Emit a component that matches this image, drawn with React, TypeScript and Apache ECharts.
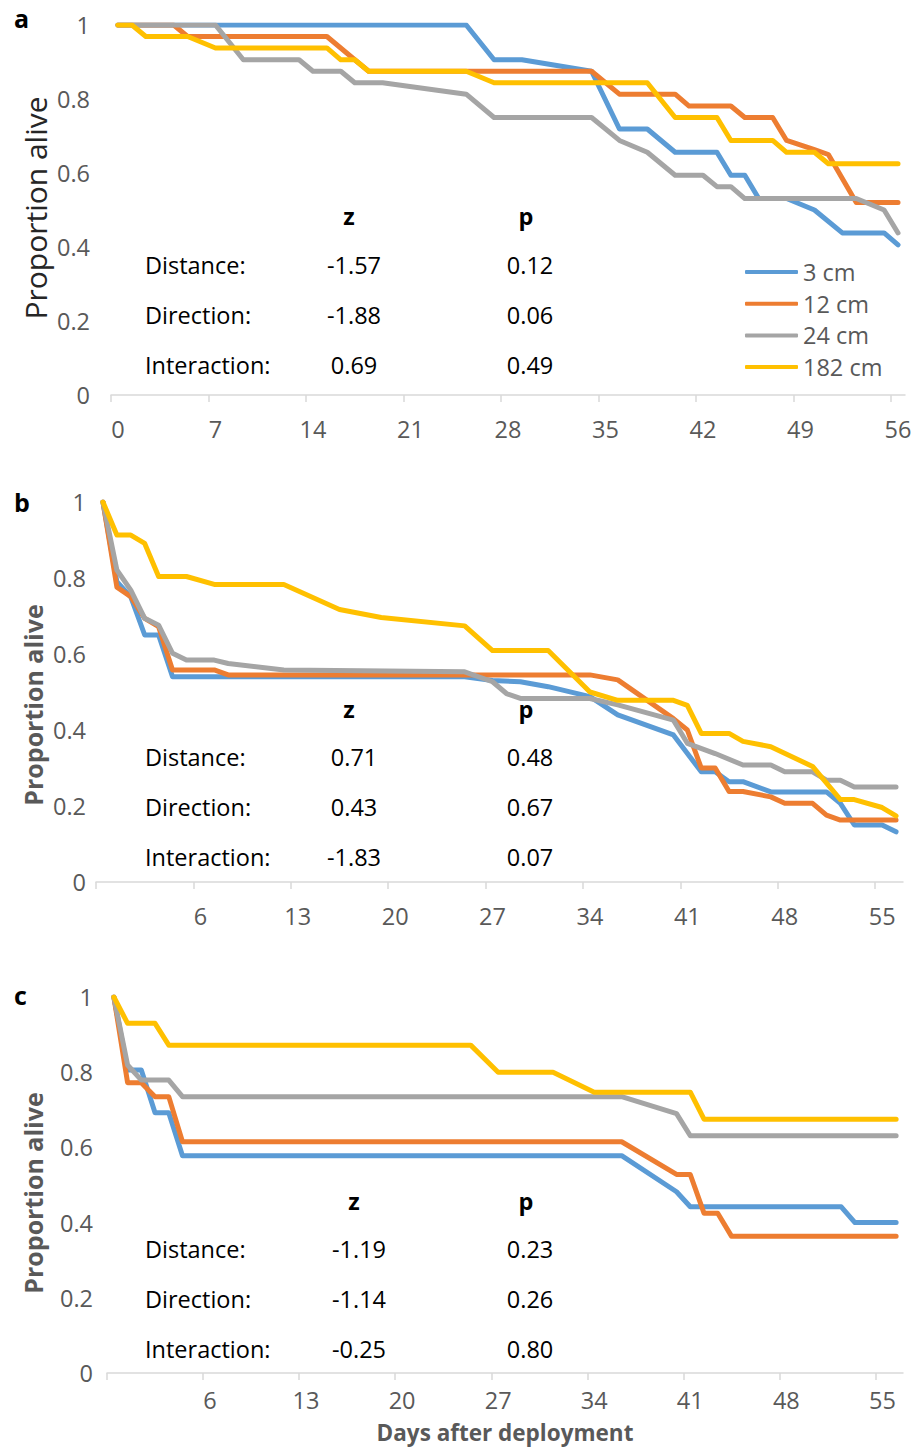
import React, { useEffect, useRef } from "react";
import * as echarts from "echarts";

const SERIES_NAMES = ["3 cm", "12 cm", "24 cm", "182 cm"];
const COLORS = ["#5B9BD5", "#ED7D31", "#A5A5A5", "#FFC000"];

// Panel a: [day, proportion alive]
const A_3CM = [[0,1],[25,1],[27,0.906],[29,0.906],[34,0.875],[36,0.719],[38,0.719],[40,0.656],[43,0.656],[44,0.594],[45,0.594],[46,0.531],[48,0.531],[50,0.5],[52,0.438],[55,0.438],[56,0.406]];
const A_12CM = [[0,1],[4,1],[5,0.969],[15,0.969],[17,0.906],[18,0.875],[34,0.875],[36,0.813],[40,0.813],[41,0.781],[44,0.781],[45,0.75],[47,0.75],[48,0.688],[50,0.663],[51,0.65],[53,0.52],[56,0.52]];
const A_24CM = [[0,1],[7,1],[9,0.906],[13,0.906],[14,0.875],[16,0.875],[17,0.844],[19,0.844],[25,0.813],[27,0.75],[34,0.75],[36,0.688],[38,0.656],[40,0.594],[42,0.594],[43,0.563],[44,0.563],[45,0.531],[53,0.531],[55,0.5],[56,0.438]];
const A_182CM = [[0,1],[1,1],[2,0.969],[5,0.969],[7,0.938],[15,0.938],[16,0.906],[17,0.906],[18,0.875],[25,0.875],[27,0.844],[38,0.844],[40,0.75],[43,0.75],[44,0.688],[47,0.688],[48,0.656],[50,0.656],[51,0.625],[56,0.625]];

// Panel b
const B_3CM = [[-1,1],[0,0.79],[1,0.75],[2,0.65],[3,0.65],[4,0.54],[25,0.54],[27,0.53],[29,0.527],[31,0.514],[34,0.488],[36,0.44],[40,0.387],[42,0.29],[43,0.29],[44,0.264],[45,0.264],[47,0.237],[51,0.237],[52,0.207],[53,0.15],[55,0.15],[56,0.132]];
const B_12CM = [[-1,1],[0,0.776],[1,0.751],[2,0.694],[3,0.672],[4,0.558],[7,0.558],[8,0.545],[34,0.545],[36,0.532],[40,0.43],[41,0.4],[42,0.3],[43,0.3],[44,0.238],[45,0.238],[47,0.224],[48,0.207],[50,0.207],[51,0.176],[52,0.163],[56,0.163]];
const B_24CM = [[-1,1],[0,0.821],[1,0.768],[2,0.694],[3,0.676],[4,0.602],[5,0.584],[7,0.584],[8,0.575],[12,0.558],[25,0.553],[27,0.527],[28,0.496],[29,0.483],[34,0.483],[36,0.466],[40,0.426],[41,0.365],[43,0.338],[45,0.308],[47,0.308],[48,0.29],[50,0.29],[51,0.268],[52,0.268],[53,0.25],[56,0.25]];
const B_182CM = [[-1,1],[0,0.913],[1,0.913],[2,0.891],[3,0.804],[5,0.804],[7,0.783],[12,0.783],[16,0.717],[19,0.696],[25,0.674],[27,0.609],[31,0.609],[34,0.5],[36,0.478],[40,0.478],[41,0.465],[42,0.391],[44,0.391],[45,0.37],[47,0.356],[50,0.304],[52,0.217],[53,0.217],[55,0.196],[56,0.174]];

// Panel c
const C_3CM = [[-1,1],[0,0.806],[1,0.806],[2,0.692],[3,0.692],[4,0.578],[36,0.578],[40,0.482],[41,0.442],[52,0.442],[53,0.4],[56,0.4]];
const C_12CM = [[-1,1],[0,0.772],[1,0.772],[2,0.735],[3,0.735],[4,0.615],[36,0.615],[40,0.528],[41,0.528],[42,0.425],[43,0.425],[44,0.364],[56,0.364]];
const C_24CM = [[-1,1],[0,0.819],[1,0.779],[3,0.779],[4,0.735],[36,0.735],[40,0.69],[41,0.631],[56,0.631]];
const C_182CM = [[-1,1],[0,0.93],[2,0.93],[3,0.872],[25,0.872],[27,0.8],[31,0.8],[34,0.747],[41,0.747],[42,0.675],[56,0.675]];

const A_X_LABELS = [0, 7, 14, 21, 28, 35, 42, 49, 56];
const BC_X_LABELS = [6, 13, 20, 27, 34, 41, 48, 55];

const STAT_ROWS = ["Distance:", "Direction:", "Interaction:"];
const A_Z = ["-1.57", "-1.88", "0.69"];
const A_P = ["0.12", "0.06", "0.49"];
const B_Z = ["0.71", "0.43", "-1.83"];
const B_P = ["0.48", "0.67", "0.07"];
const C_Z = ["-1.19", "-1.14", "-0.25"];
const C_P = ["0.23", "0.26", "0.80"];

const FONT = "Open Sans";
const GREY_TEXT = "#595959";
const AXIS_GREY = "#D9D9D9";

export default function App() {
  const ref = useRef<HTMLDivElement>(null);
  useEffect(() => {
    if (!ref.current) return;
    const chart = echarts.init(ref.current, undefined, { renderer: "svg" });

    const grids = [
      { left: 111, top: 25, width: 794, height: 370 },
      { left: 96, top: 502, width: 807, height: 380 },
      { left: 107, top: 997, width: 796, height: 376 },
    ];
    const xMins = [-0.5, -1.5, -1.5];
    const xLabelSets = [A_X_LABELS, BC_X_LABELS, BC_X_LABELS];
    const labelMargins = [22, 22, 15];
    const yLabelMargins = [21, 10, 14];

    const xAxis = grids.map((_, i) => {
      const labels = xLabelSets[i];
      const ticks = i === 0 ? labels.map((v) => v - 0.5) : [-1.5, ...labels.map((v) => v - 0.5)];
      return {
        type: "value",
        gridIndex: i,
        min: xMins[i],
        max: 56.5,
        axisLine: { show: true, lineStyle: { color: AXIS_GREY, width: 1.5 } },
        axisTick: { show: true, customValues: ticks, length: 7, lineStyle: { color: AXIS_GREY, width: 1.5 } },
        axisLabel: {
          customValues: labels,
          fontSize: 23.5,
          fontFamily: FONT,
          color: GREY_TEXT,
          margin: labelMargins[i],
        },
        splitLine: { show: false },
      };
    });
    const yAxis = grids.map((_, i) => ({
      type: "value",
      gridIndex: i,
      min: 0,
      max: 1,
      interval: 0.2,
      axisLine: { show: false },
      axisTick: { show: false },
      splitLine: { show: false },
      axisLabel: { fontSize: 23.5, fontFamily: FONT, color: GREY_TEXT, margin: yLabelMargins[i] },
    }));

    const panels = [
      [A_3CM, A_12CM, A_24CM, A_182CM],
      [B_3CM, B_12CM, B_24CM, B_182CM],
      [C_3CM, C_12CM, C_24CM, C_182CM],
    ];
    const series: any[] = [];
    panels.forEach((sets, p) => {
      sets.forEach((data, s) => {
        series.push({
          type: "line",
          name: SERIES_NAMES[s],
          xAxisIndex: p,
          yAxisIndex: p,
          data,
          showSymbol: false,
          symbol: "none",
          color: COLORS[s],
          lineStyle: { width: 5, color: COLORS[s], cap: "round", join: "round" },
        });
      });
    });

    const graphic: any[] = [];
    const text = (x: number, y: number, t: string, opts: any = {}) =>
      graphic.push({
        type: "text",
        x,
        y,
        rotation: opts.rotation || 0,
        style: {
          text: t,
          fontFamily: FONT,
          fontSize: opts.fontSize || 23.5,
          fontWeight: opts.bold ? "bold" : "normal",
          fill: opts.color || "#000000",
          align: opts.align || "left",
          verticalAlign: "middle",
        },
      });

    // panel letters
    text(14, 18, "a", { bold: true, fontSize: 25 });
    text(14, 502, "b", { bold: true, fontSize: 25 });
    text(14, 995, "c", { bold: true, fontSize: 25 });

    // y-axis titles
    text(35, 208, "Proportion alive", { rotation: Math.PI / 2, align: "center", fontSize: 30, color: "#262626" });
    text(33, 705, "Proportion alive", { rotation: Math.PI / 2, align: "center", fontSize: 25, bold: true, color: GREY_TEXT });
    text(33, 1193, "Proportion alive", { rotation: Math.PI / 2, align: "center", fontSize: 25, bold: true, color: GREY_TEXT });

    // x-axis title
    text(505, 1432, "Days after deployment", { align: "center", fontSize: 22.5, bold: true, color: GREY_TEXT });

    // statistics tables
    const stats = [
      { head: 216, rows: [265, 315, 365], zx: 354, z: A_Z, p: A_P },
      { head: 709, rows: [757, 807, 857], zx: 354, z: B_Z, p: B_P },
      { head: 1201, rows: [1249, 1299, 1349], zx: 359, z: C_Z, p: C_P },
    ];
    stats.forEach((st) => {
      text(st.zx - 5, st.head, "z", { bold: true, align: "center" });
      text(526, st.head, "p", { bold: true, align: "center" });
      STAT_ROWS.forEach((r, i) => {
        text(145, st.rows[i], r);
        text(st.zx, st.rows[i], st.z[i], { align: "center" });
        text(530, st.rows[i], st.p[i], { align: "center" });
      });
    });

    chart.setOption({
      animation: false,
      backgroundColor: "#ffffff",
      grid: grids,
      xAxis,
      yAxis,
      series,
      legend: {
        data: SERIES_NAMES,
        orient: "vertical",
        left: 740,
        top: 255,
        itemWidth: 53,
        itemHeight: 4,
        itemGap: 7.7,
        icon: "roundRect",
        textStyle: { fontSize: 23.5, fontFamily: FONT, color: GREY_TEXT, lineHeight: 24 },
      },
      graphic,
    });
    return () => chart.dispose();
  }, []);
  return <div ref={ref} style={{ position: "absolute", left: 0, top: 0, width: 919, height: 1447 }} />;
}
